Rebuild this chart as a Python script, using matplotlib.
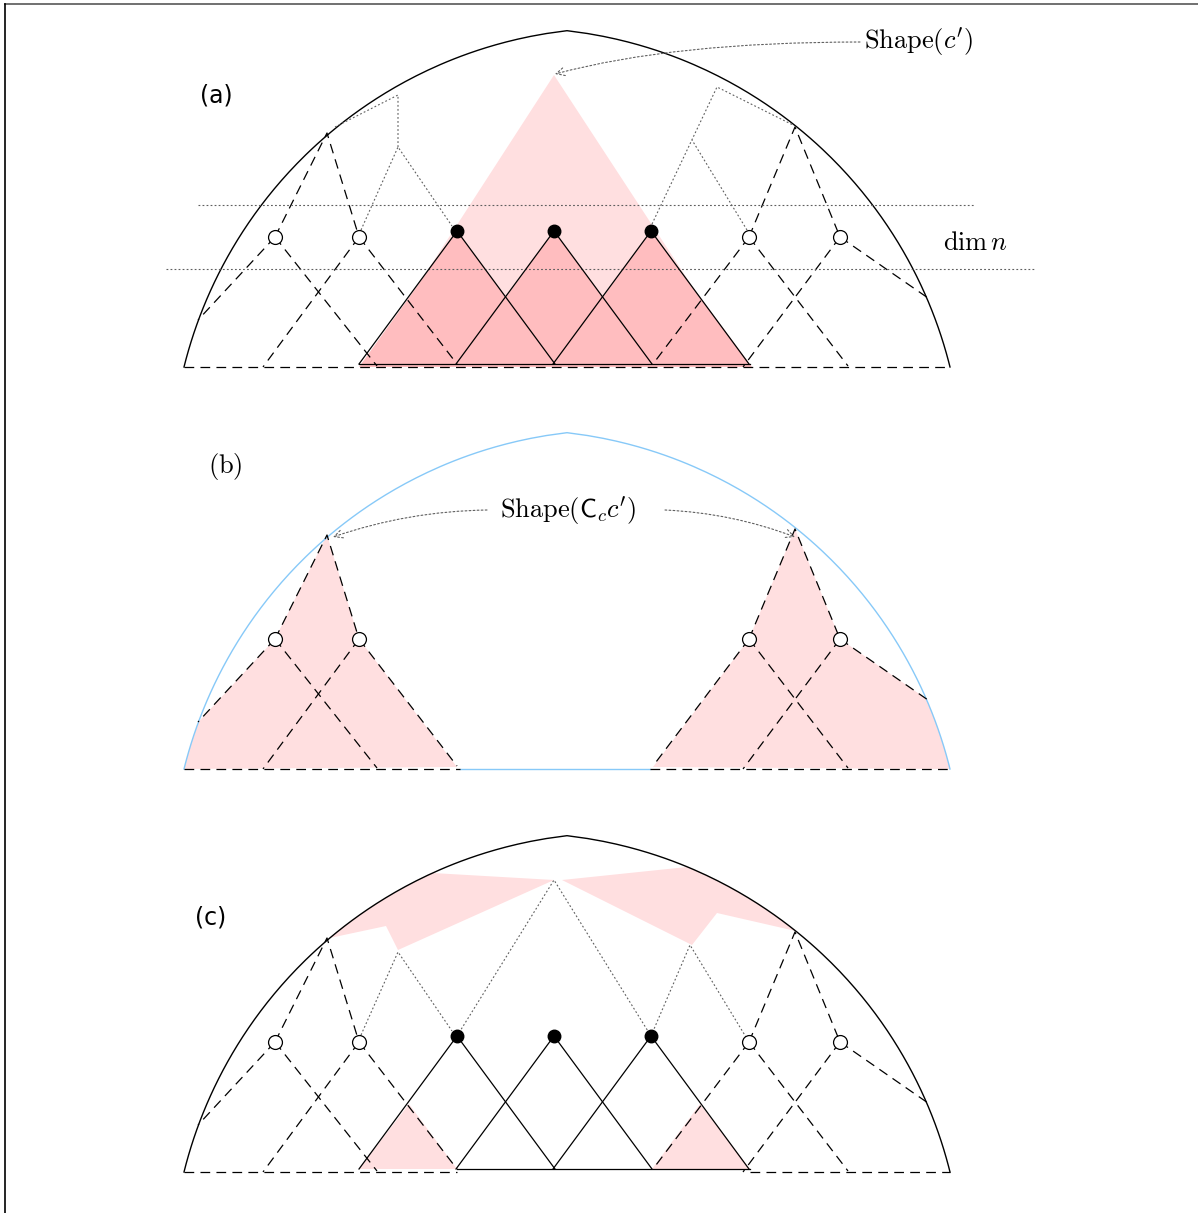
import numpy as np
import matplotlib
matplotlib.use("Agg")
import matplotlib.pyplot as plt
from matplotlib.patches import Polygon, FancyArrowPatch

plt.rcParams.update({"mathtext.fontset": "cm", "lines.scale_dashes": False})

W, H = 1198, 1213

# vertical shift of each panel (the three panels share one base geometry)
PANEL_DY = [0, 402, 805]

# dome: two circular arcs meeting at the top (gothic arch)
MID_X = 567
FOOT_L, FOOT_R, BASE_Y = 184, 950, 367
ARC_C = (618, 475)                      # centre of the left arc; right one is mirrored
ARC_R = np.hypot(FOOT_L - ARC_C[0], BASE_Y - ARC_C[1])

DOTS_X, DOT_Y = [457, 554, 651], 231    # filled dots
HALF_W, TRI_BASE = 98, 364              # solid triangles below the dots
CIRCLES_X, CIRCLE_Y = [275, 359, 749, 840], 237

CIRCLE_LEGS = [((275, 237), (198, 320)), ((275, 237), (377, 366)),
               ((359, 237), (263, 367)), ((359, 237), (457, 364)),
               ((749, 237), (653, 364)), ((749, 237), (848, 366)),
               ((840, 237), (743, 367)), ((840, 237), (928, 298))]
V_TOPS = [[(275, 237), (327, 133), (359, 237)],
          [(749, 237), (795, 127), (840, 237)]]

DOTTED_A = [[(361, 230), (398, 147), (452, 226)],
            [(398, 147), (398, 95), (333, 128)],
            [(652, 224), (717, 87), (793, 125)],
            [(747, 230), (692, 140)]]
DOTTED_C = [[(361, 230), (398, 147), (452, 226)],
            [(457, 231), (554, 75), (651, 231)],
            [(651, 231), (690, 140), (749, 237)]]
HLINES = [(198, 975, 205), (166, 1035, 269)]

LIGHT, DARK = "#ffdfe0", "#ffbdbf"
BLUE, GREY = "#87c9f8", "#5f5f5f"
DASH = (0, (7, 4.5))
DOT = (0, (1.3, 1.6))


def arc(side, y0, y1, dy=0, n=120):
    ys = np.linspace(y0, y1, n)
    s = np.sqrt(ARC_R ** 2 - (ys - ARC_C[1]) ** 2)
    xs = ARC_C[0] - s if side == "L" else (2 * MID_X - ARC_C[0]) + s
    return list(zip(xs, ys + dy))


TOP_Y = ARC_C[1] - np.sqrt(ARC_R ** 2 - (MID_X - ARC_C[0]) ** 2)


def sh(pts, dy):
    return [(x, y + dy) for x, y in pts]


def line(ax, pts, dy, **kw):
    p = sh(pts, dy)
    ax.plot([q[0] for q in p], [q[1] for q in p], **kw)


def fill(ax, pts, dy, color, z=1):
    ax.add_patch(Polygon(sh(pts, dy), closed=True, fc=color, ec="none", zorder=z))


def dome(ax, dy, color):
    pts = arc("L", BASE_Y, TOP_Y, dy) + arc("R", TOP_Y, BASE_Y, dy)
    ax.plot([p[0] for p in pts], [p[1] for p in pts], color=color, lw=1.0, zorder=4)


def circle_net(ax, dy):
    for a, b in CIRCLE_LEGS:
        line(ax, [a, b], dy, color="k", lw=0.9, ls=DASH, zorder=4)
    for v in V_TOPS:
        line(ax, v, dy, color="k", lw=0.9, ls=DASH, zorder=4)
    ax.plot(CIRCLES_X, [CIRCLE_Y + dy] * len(CIRCLES_X), "o", ms=10, mfc="white",
            mec="k", mew=0.9, zorder=6)


def dots(ax, dy):
    for x in DOTS_X:
        line(ax, [(x - HALF_W, TRI_BASE), (x, DOT_Y), (x + HALF_W, TRI_BASE)], dy,
             color="k", lw=0.9, zorder=5)
    ax.plot(DOTS_X, [DOT_Y + dy] * len(DOTS_X), "o", ms=9, color="k", zorder=6)


def arrow(ax, a, b, conn):
    ax.add_patch(FancyArrowPatch(a, b, arrowstyle="->,head_length=6,head_width=3",
                                 connectionstyle=conn, color=GREY,
                                 lw=0.8, ls=DOT, mutation_scale=1, zorder=7,
                                 shrinkA=0, shrinkB=0))


fig = plt.figure(figsize=(W / 100, H / 100), dpi=100)
ax = fig.add_axes([0, 0, 1, 1])
ax.set_xlim(0, W)
ax.set_ylim(H, 0)
ax.axis("off")

# frame
ax.plot([5, W], [4, 4], color="#707070", lw=1.4)
ax.plot([5, 5], [4, H], color="k", lw=1.2)

# ---------------- (a)
dy = PANEL_DY[0]
tri_a = [(554, 75), (745, BASE_Y), (365, BASE_Y)]
fill(ax, tri_a, dy, LIGHT)
union = [(359, BASE_Y)]
for i, x in enumerate(DOTS_X):
    union.append((x, DOT_Y))
    if i < len(DOTS_X) - 1:
        union.append((x + HALF_W / 2, DOT_Y + (TRI_BASE - DOT_Y) / 2))
union.append((752, BASE_Y))
fill(ax, union, dy, DARK, z=2)
dome(ax, dy, "k")
line(ax, [(FOOT_L, BASE_Y), (FOOT_R, BASE_Y)], dy, color="k", lw=0.9, ls=DASH, zorder=4)
line(ax, [(359, TRI_BASE), (750, TRI_BASE)], dy, color="k", lw=0.9, zorder=4)
circle_net(ax, dy)
dots(ax, dy)
for seg in DOTTED_A:
    line(ax, seg, dy, color=GREY, lw=0.8, ls=DOT, zorder=4)
for x0, x1, y in HLINES:
    ax.plot([x0, x1], [y, y], color=GREY, lw=0.8, ls=DOT, zorder=4)
ax.text(200, 96, "(a)", fontsize=17, va="center", ha="left")
ax.text(864, 42, r"$\mathrm{Shape}(c')$", fontsize=19, va="center", ha="left")
ax.text(943, 243, r"$\dim n$", fontsize=19, va="center", ha="left")
arrow(ax, (860, 42), (555, 74), "angle3,angleA=180,angleB=15")

# ---------------- (b)
dy = PANEL_DY[1]
left_b = arc("L", BASE_Y, 320) + [(275, 237), (327, 133), (359, 237), (457, 365)]
right_b = [(653, 365), (749, 237), (795, 127), (840, 237), (928, 298)] + arc("R", 298, BASE_Y)
fill(ax, left_b, dy, LIGHT)
fill(ax, right_b, dy, LIGHT)
dome(ax, dy, BLUE)
line(ax, [(460, BASE_Y), (650, BASE_Y)], dy, color=BLUE, lw=1.0, zorder=4)
line(ax, [(FOOT_L, BASE_Y), (460, BASE_Y)], dy, color="k", lw=0.9, ls=DASH, zorder=4)
line(ax, [(650, BASE_Y), (FOOT_R, BASE_Y)], dy, color="k", lw=0.9, ls=DASH, zorder=4)
circle_net(ax, dy)
ax.text(208, 466, r"$(\mathrm{b})$", fontsize=19, va="center", ha="left")
ax.text(500, 511, r"$\mathrm{Shape}(\mathsf{C}_c c')$", fontsize=19, va="center", ha="left")
arrow(ax, (487, 510), (333, 537), "arc3,rad=0.08")
arrow(ax, (665, 510), (795, 537), "arc3,rad=-0.08")

# ---------------- (c)
dy = PANEL_DY[2]
top_l = arc("L", 133, 68) + [(554, 75), (398, 145), (386, 121)]
top_r = [(562, 75), (687, 62)] + arc("R", 62, 126) + [(717, 108), (692, 140)]
fill(ax, top_l, dy, LIGHT)
fill(ax, top_r, dy, LIGHT)
fill(ax, [(359, TRI_BASE), (409, 299), (457, TRI_BASE)], dy, LIGHT)
fill(ax, [(652, TRI_BASE), (700, 299), (750, TRI_BASE)], dy, LIGHT)
dome(ax, dy, "k")
line(ax, [(FOOT_L, BASE_Y), (457, BASE_Y)], dy, color="k", lw=0.9, ls=DASH, zorder=4)
line(ax, [(750, BASE_Y), (FOOT_R, BASE_Y)], dy, color="k", lw=0.9, ls=DASH, zorder=4)
line(ax, [(457, TRI_BASE), (750, TRI_BASE)], dy, color="k", lw=0.9, zorder=4)
circle_net(ax, dy)
dots(ax, dy)
for seg in DOTTED_C:
    line(ax, seg, dy, color=GREY, lw=0.8, ls=DOT, zorder=4)
ax.text(195, 918, "(c)", fontsize=17, va="center", ha="left")

fig.savefig("out.png", dpi=100)
